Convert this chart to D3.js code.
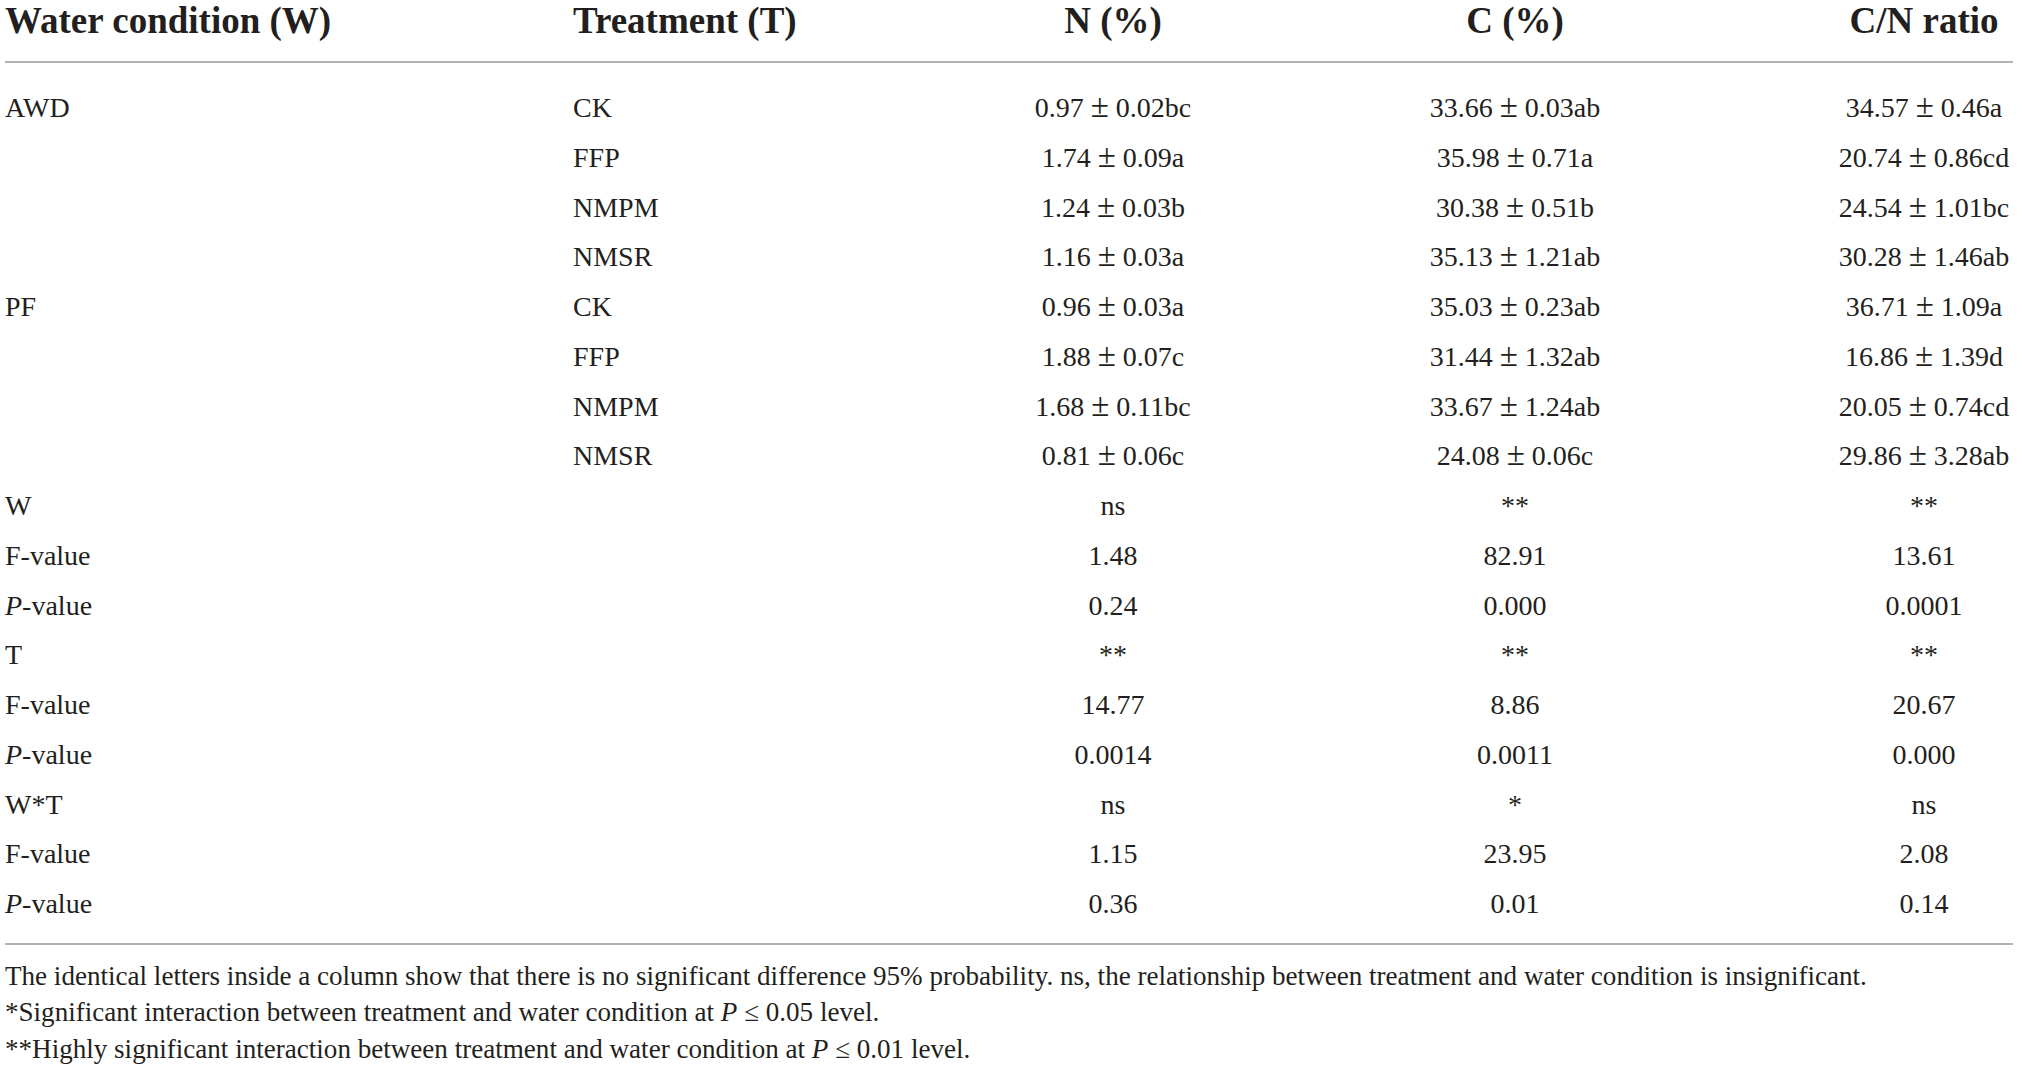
<!DOCTYPE html>
<html><head><meta charset="utf-8">
<script src="https://cdn.jsdelivr.net/npm/d3@7"></script>
<style>
html,body{margin:0;padding:0;background:#fff;}
svg{display:block;}
</style></head>
<body>
<svg id="c" width="2019" height="1071"></svg>
<script>
// ---- data ----
const headers = ["Water condition (W)", "Treatment (T)", "N (%)", "C (%)", "C/N ratio"];
const waterConditions = ["AWD", "AWD", "AWD", "AWD", "PF", "PF", "PF", "PF"];
const treatments = ["CK", "FFP", "NMPM", "NMSR", "CK", "FFP", "NMPM", "NMSR"];
const nMean = [0.97, 1.74, 1.24, 1.16, 0.96, 1.88, 1.68, 0.81];
const nSE = [0.02, 0.09, 0.03, 0.03, 0.03, 0.07, 0.11, 0.06];
const nLetter = ["bc", "a", "b", "a", "a", "c", "bc", "c"];
const cMean = [33.66, 35.98, 30.38, 35.13, 35.03, 31.44, 33.67, 24.08];
const cSE = [0.03, 0.71, 0.51, 1.21, 0.23, 1.32, 1.24, 0.06];
const cLetter = ["ab", "a", "b", "ab", "ab", "ab", "ab", "c"];
const cnMean = [34.57, 20.74, 24.54, 30.28, 36.71, 16.86, 20.05, 29.86];
const cnSE = [0.46, 0.86, 1.01, 1.46, 1.09, 1.39, 0.74, 3.28];
const cnLetter = ["a", "cd", "bc", "ab", "a", "d", "cd", "ab"];
const factors = ["W", "T", "W*T"];
const signif = [["ns", "**", "**"], ["**", "**", "**"], ["ns", "*", "ns"]];
const fValues = [["1.48", "82.91", "13.61"], ["14.77", "8.86", "20.67"], ["1.15", "23.95", "2.08"]];
const pValues = [["0.24", "0.000", "0.0001"], ["0.0014", "0.0011", "0.000"], ["0.36", "0.01", "0.14"]];
const footnotes = [
  [["The identical letters inside a column show that there is no significant difference 95% probability. ns, the relationship between treatment and water condition is insignificant.", "n"]],
  [["*Significant interaction between treatment and water condition at ", "n"], ["P", "i"], [" \u2264 0.05 level.", "n"]],
  [["**Highly significant interaction between treatment and water condition at ", "n"], ["P", "i"], [" \u2264 0.01 level.", "n"]]
];

// ---- build rows ----
const f2 = d3.format(".2f");
const pm = (m, s, l) => [[f2(m) + " ", "n"], ["\u00b1", "pm"], [" " + f2(s) + l, "n"]];
const rows = [];
for (let i = 0; i < treatments.length; i++) {
  rows.push([
    [[i % 4 === 0 ? waterConditions[i] : "", "n"]],
    [[treatments[i], "n"]],
    pm(nMean[i], nSE[i], nLetter[i]),
    pm(cMean[i], cSE[i], cLetter[i]),
    pm(cnMean[i], cnSE[i], cnLetter[i])
  ]);
}
factors.forEach((fa, k) => {
  rows.push([[[fa, "n"]], [["", "n"]], ...signif[k].map(s => [[s, "n"]])]);
  rows.push([[["F-value", "n"]], [["", "n"]], ...fValues[k].map(s => [[s, "n"]])]);
  rows.push([[["P", "i"], ["-value", "n"]], [["", "n"]], ...pValues[k].map(s => [[s, "n"]])]);
});

// ---- layout ----
const svg = d3.select("#c");
const font = "'Liberation Serif', 'Times New Roman', serif";
const ink = "#231f20";

const colX = d3.scaleOrdinal().domain(d3.range(5)).range([5, 573, 1113, 1515, 1924]);
const colAnchor = d3.scaleOrdinal().domain(d3.range(5)).range(["start", "start", "middle", "middle", "middle"]);
const y = d3.scalePoint().domain(d3.range(rows.length)).range([117, 913]);

// header
svg.append("g").selectAll("text").data(headers).join("text")
  .attr("x", (d, i) => colX(i)).attr("y", 33)
  .attr("text-anchor", (d, i) => colAnchor(i))
  .attr("font-family", font).attr("font-weight", "bold").attr("font-size", 37)
  .attr("fill", ink).text(d => d);

// rules
svg.append("g").selectAll("line").data([62, 944]).join("line")
  .attr("x1", 5).attr("x2", 2013).attr("y1", d => d).attr("y2", d => d)
  .attr("stroke", "#9a9a9a").attr("stroke-width", 1.6);

// body
const rowG = svg.append("g").selectAll("g").data(rows).join("g")
  .attr("transform", (d, i) => `translate(0,${y(i)})`);
rowG.selectAll("text").data(d => d).join("text")
  .attr("x", (d, i) => colX(i))
  .attr("text-anchor", (d, i) => colAnchor(i))
  .attr("font-family", font).attr("font-size", 28).attr("fill", ink)
  .selectAll("tspan").data(d => d).join("tspan")
  .attr("font-style", d => d[1] === "i" ? "italic" : "normal")
  .attr("font-size", d => d[1] === "pm" ? 33 : null)
  .text(d => d[0]);

// footnotes
const fnY = [985, 1021, 1058];
const fn = svg.append("g").selectAll("text").data(footnotes).join("text")
  .attr("x", 5).attr("y", (d, i) => fnY[i])
  .attr("font-family", font).attr("font-size", 100).attr("fill", ink);
fn.selectAll("tspan").data(d => d).join("tspan")
  .attr("font-style", d => d[1] === "i" ? "italic" : "normal")
  .text(d => d[0]);
const w0 = fn.nodes()[0].getComputedTextLength();
fn.attr("font-size", 100 * (1867 - 5) / w0);
</script>
</body></html>
